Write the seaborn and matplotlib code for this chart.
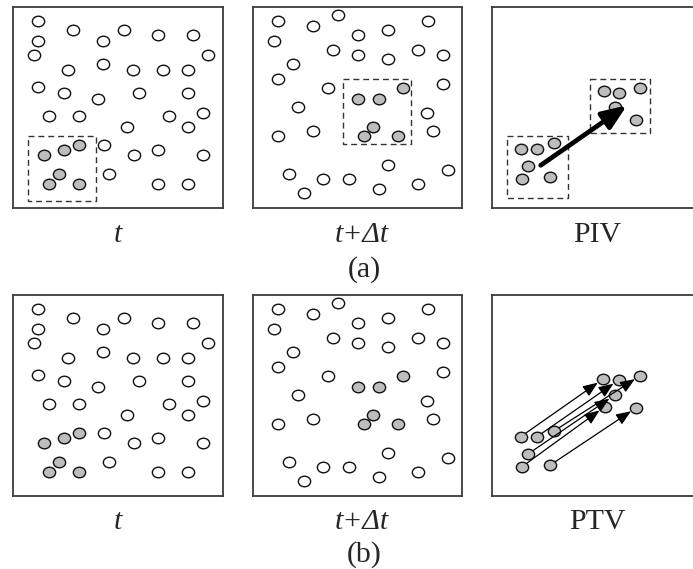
import matplotlib
matplotlib.use("Agg")
import matplotlib.pyplot as plt
from matplotlib.path import Path
from matplotlib.transforms import Affine2D
import seaborn as sns

sns.set_theme(style="white")
plt.rcParams["font.family"] = ["Liberation Serif", "DejaVu Serif"]

# ---- particle images (panel pixel units, y pointing down) ----
# frame at time t: unmarked particles
frame1_open_x = [24.7, 60, 110.7, 144.7, 180, 24.7, 90, 20.7, 194.7, 54.7, 90, 120, 150, 174.7,
                 24.7, 50.7, 84.7, 125.7, 174.7, 36, 66, 155.7, 189.7, 114, 174.7, 90.7,
                 120.7, 144.7, 189.7, 95.7, 144.7, 174.7]
frame1_open_y = [14.3, 23.3, 23.3, 28.3, 28.3, 34.3, 34.3, 48.3, 48.3, 62.7, 57, 62.7, 62.7, 62.7,
                 80.3, 86, 91.7, 86, 86, 109.3, 109.3, 109.3, 106, 120, 120, 138.3,
                 148.3, 143.3, 148.3, 166.7, 177, 177]
# frame at time t: tracked particle group
frame1_seed_x = [30.7, 50.7, 66, 45.7, 36, 66]
frame1_seed_y = [148.3, 143.3, 138.3, 166.7, 177, 177]

# frame at time t + dt: unmarked particles
frame2_open_x = [25, 60.7, 85, 105.3, 135.3, 175, 21.3, 80.7, 105.3, 135.3, 165.3, 190, 40, 25,
                 75.7, 190, 45.3, 174.7, 60.7, 25, 180.3, 135.3, 195.3, 36.3, 70, 96, 126,
                 165.3, 51]
frame2_open_y = [14.3, 19.3, 8.3, 27.7, 23.3, 14.3, 34.3, 43.3, 47.7, 52, 43.3, 47.7, 57, 71.7,
                 81, 76.7, 100.3, 106, 123.7, 128.7, 123.7, 157.7, 163.3, 166.7, 172, 172, 181.7,
                 177, 186]
# frame at time t + dt: tracked particle group
frame2_seed_x = [105.3, 126, 150.3, 120.3, 111, 145]
frame2_seed_y = [91.7, 91.7, 81, 120, 129.3, 129.3]

# interrogation windows [x0, x1, y0, y1]
window_t = [15, 83, 129.3, 194]
window_t_dt = [90, 158.3, 72, 136.7]

# PIV result panel
piv_win_a = [15, 76, 129.3, 190.7]
piv_win_b = [97.7, 158, 72, 126]
piv_a_x = [28.7, 45, 62, 36, 30, 58.3]
piv_a_y = [141.7, 141.7, 136, 158.7, 171.7, 170]
piv_b_x = [111.7, 126.7, 148.3, 123.3, 144.3]
piv_b_y = [83.7, 86, 81, 100, 112.7]
piv_vec_start = [48.7, 158.3]
piv_vec_end = [135, 98.3]

# PTV result panel: each particle tracked individually
ptv_start_x = [28.7, 45, 62, 36, 30, 58.3]
ptv_start_y = [141.7, 141.7, 136, 159, 171.7, 170]
ptv_end_x = [111, 126.7, 148.3, 122.7, 112.7, 144.3]
ptv_end_y = [84, 85, 80.7, 100, 111.7, 112.7]

panel_labels = ["t", "t+Δt", "PIV"]
panel_labels_b = ["t", "t+Δt", "PTV"]
label_styles = ["italic", "italic", "normal"]
row_labels = ["(a)", "(b)"]

# ---- figure layout in pixels ----
W, H = 693, 569
fig = plt.figure(figsize=(W / 100, H / 100), dpi=100)
fig.patch.set_facecolor("white")

PW, PH = 209.5, 201
col_x = [13, 252.5, 492]
row_y = [7, 295]

ell = Path.unit_circle().transformed(Affine2D().scale(1.0, 0.86))
OPEN_KW = dict(marker=ell, s=78, color="white", edgecolor="#111111", linewidth=1.0,
               legend=False, zorder=3)
SEED_KW = dict(marker=ell, s=78, color="#bdbdbd", edgecolor="#111111", linewidth=1.0,
               legend=False, zorder=3)


def make_panel(col, row):
    x, y = col_x[col], row_y[row]
    ax = fig.add_axes([x / W, 1 - (y + PH) / H, PW / W, PH / H])
    ax.set_xlim(0, PW)
    ax.set_ylim(PH, 0)
    ax.set_xticks([])
    ax.set_yticks([])
    ax.set_facecolor("white")
    for sp in ax.spines.values():
        sp.set_visible(True)
        sp.set_color("#3c3c3c")
        sp.set_linewidth(1.3)
    return ax


def dashed_box(ax, box):
    x0, x1, y0, y1 = box
    ax.plot([x0, x1, x1, x0, x0], [y0, y0, y1, y1, y0], color="#333333",
            lw=1.0, ls=(0, (4.3, 2.8)), zorder=2)


def particles(ax, ox, oy, sx, sy):
    sns.scatterplot(x=ox, y=oy, ax=ax, **OPEN_KW)
    sns.scatterplot(x=sx, y=sy, ax=ax, **SEED_KW)


for row in range(2):
    ax1 = make_panel(0, row)
    particles(ax1, frame1_open_x, frame1_open_y, frame1_seed_x, frame1_seed_y)
    ax2 = make_panel(1, row)
    particles(ax2, frame2_open_x, frame2_open_y, frame2_seed_x, frame2_seed_y)
    if row == 0:
        dashed_box(ax1, window_t)
        dashed_box(ax2, window_t_dt)

# PIV: window-averaged displacement
ax3 = make_panel(2, 0)
dashed_box(ax3, piv_win_a)
dashed_box(ax3, piv_win_b)
sns.scatterplot(x=piv_a_x, y=piv_a_y, ax=ax3, **SEED_KW)
sns.scatterplot(x=piv_b_x, y=piv_b_y, ax=ax3, **SEED_KW)
ax3.annotate("", xy=piv_vec_end, xytext=piv_vec_start,
             arrowprops=dict(arrowstyle="-|>,head_length=1.5,head_width=0.6",
                             lw=3.4, color="black", shrinkA=0, shrinkB=0,
                             mutation_scale=10),
             zorder=5)

# PTV: individual particle displacements
ax6 = make_panel(2, 1)
sns.scatterplot(x=ptv_start_x, y=ptv_start_y, ax=ax6, **SEED_KW)
sns.scatterplot(x=ptv_end_x, y=ptv_end_y, ax=ax6, **SEED_KW)
for xs, ys, xe, ye in zip(ptv_start_x, ptv_start_y, ptv_end_x, ptv_end_y):
    ax6.annotate("", xy=(xe, ye), xytext=(xs, ys),
                 arrowprops=dict(arrowstyle="-|>,head_length=0.9,head_width=0.36",
                                 lw=0.9, color="black", shrinkA=4.3, shrinkB=4.6,
                                 mutation_scale=10),
                 zorder=5)

# ---- captions ----
FS = 21.5
label_cx = [117.5, 362, 597]
for i, lab in enumerate(panel_labels):
    fig.text(label_cx[i] / W, 1 - 242 / H, lab, ha="center", va="baseline",
             fontsize=FS, style=label_styles[i])
for i, lab in enumerate(panel_labels_b):
    fig.text(label_cx[i] / W, 1 - 529 / H, lab, ha="center", va="baseline",
             fontsize=FS, style=label_styles[i])
fig.text(364 / W, 1 - 277 / H, row_labels[0], ha="center", va="baseline", fontsize=FS)
fig.text(364 / W, 1 - 562 / H, row_labels[1], ha="center", va="baseline", fontsize=FS)

fig.savefig("out.png", dpi=100, facecolor="white")
